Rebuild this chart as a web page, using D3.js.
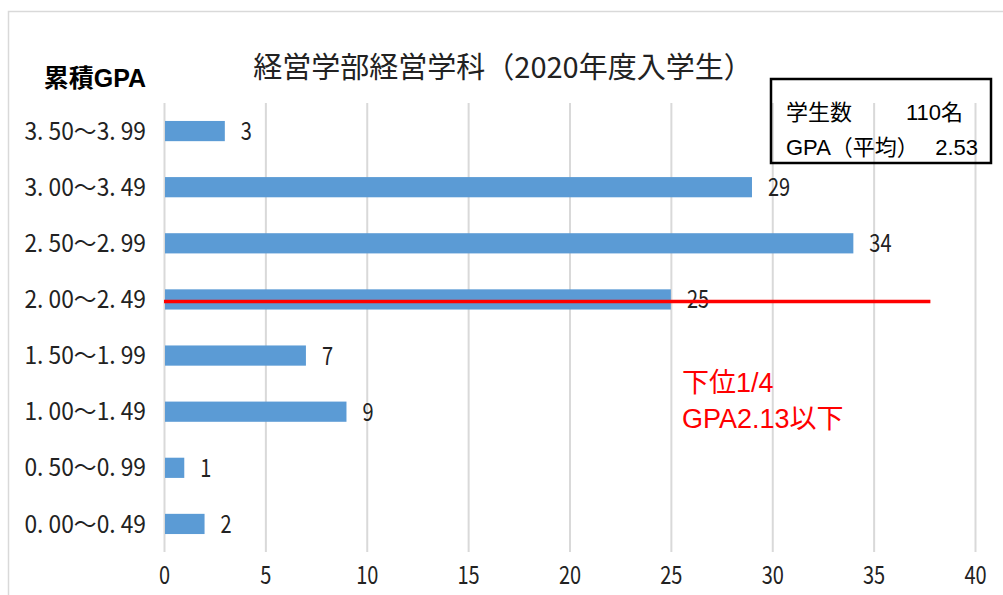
<!DOCTYPE html>
<html>
<head>
<meta charset="utf-8">
<script src="https://cdn.jsdelivr.net/npm/d3@7"></script>
<style>
  body { margin: 0; background: #ffffff; }
  svg { display: block; }
</style>
</head>
<body>
<svg id="svg"></svg>
<script>
// chart data
var categories = ["3. 50～3. 99", "3. 00～3. 49", "2. 50～2. 99", "2. 00～2. 49",
                  "1. 50～1. 99", "1. 00～1. 49", "0. 50～0. 99", "0. 00～0. 49"];
var counts = [3, 29, 34, 25, 7, 9, 1, 2];
var xTicks = [0, 5, 10, 15, 20, 25, 30, 35, 40];

// annotations
var titleText = "経営学部経営学科（2020年度入学生）";
var axisTitle = "累積GPA";
var statLabels = ["学生数", "GPA（平均）"];
var statValues = ["110名", "2.53"];
var cutoffIndex = 3;
var cutoffEnd = 37.8;
var noteLines = ["下位1/4", "GPA2.13以下"];

// style
var width = 1003;
var height = 595;
var barColor = "#5b9bd5";
var gridColor = "#d9d9d9";
var narrowX = 0.8;   // the source font has narrow digits
var cjkFont = "'Noto Sans CJK JP', sans-serif";
var plainFont = "'Liberation Sans', 'Noto Sans CJK JP', sans-serif";

var svg = d3.select("#svg")
    .attr("width", width)
    .attr("height", height);

// chart frame
svg.append("rect")
    .attr("x", 8.5)
    .attr("y", 11.5)
    .attr("width", width)
    .attr("height", height)
    .attr("fill", "none")
    .attr("stroke", gridColor)
    .attr("stroke-width", 1.5);

var x = d3.scaleLinear().domain([0, 40]).range([164, 975]);
var y = d3.scaleBand().domain(categories).range([103, 552])
    .paddingInner(0.64).paddingOuter(0.32);

// grid + x tick labels
var xAxis = svg.append("g")
    .attr("transform", "translate(0,552)")
    .call(d3.axisBottom(x).tickValues(xTicks).tickSize(-449).tickSizeOuter(0).tickPadding(14));
xAxis.select(".domain").remove();
xAxis.selectAll(".tick line")
    .attr("stroke", gridColor)
    .attr("stroke-width", 2);
xAxis.selectAll(".tick text")
    .attr("font-family", cjkFont)
    .attr("font-size", 25)
    .attr("fill", "#222")
    .attr("transform", "scale(" + narrowX + ",1)");

// bars
svg.selectAll("rect.bar")
    .data(counts)
    .enter()
    .append("rect")
    .attr("class", "bar")
    .attr("x", x(0) + 1)
    .attr("y", function(d, i) { return y(categories[i]); })
    .attr("width", function(d) { return x(d) - x(0) - 1; })
    .attr("height", y.bandwidth())
    .attr("fill", barColor);

// value labels
svg.selectAll("text.val")
    .data(counts)
    .enter()
    .append("text")
    .attr("class", "val")
    .attr("transform", function(d, i) {
        return "translate(" + (x(d) + 16) + "," + (y(categories[i]) + y.bandwidth() / 2) + ") scale(" + narrowX + ",1)";
    })
    .attr("dy", "0.36em")
    .attr("font-family", cjkFont)
    .attr("font-size", 25)
    .attr("fill", "#222")
    .text(function(d) { return d; });

// category labels
svg.selectAll("text.cat")
    .data(categories)
    .enter()
    .append("text")
    .attr("class", "cat")
    .attr("transform", function(d) {
        return "translate(146," + (y(d) + y.bandwidth() / 2) + ") scale(0.95,1)";
    })
    .attr("dy", "0.36em")
    .attr("text-anchor", "end")
    .attr("font-family", cjkFont)
    .attr("font-size", 24)
    .attr("fill", "#222")
    .text(function(d) { return d; });

// title
svg.append("text")
    .attr("x", 503)
    .attr("y", 78)
    .attr("text-anchor", "middle")
    .attr("font-family", cjkFont)
    .attr("font-size", 29)
    .attr("fill", "#222")
    .text(titleText);

svg.append("text")
    .attr("x", 95)
    .attr("y", 87)
    .attr("text-anchor", "middle")
    .attr("font-family", plainFont)
    .attr("font-weight", "bold")
    .attr("font-size", 25)
    .attr("fill", "#000")
    .text(axisTitle);

// stats box
svg.append("rect")
    .attr("x", 771)
    .attr("y", 79)
    .attr("width", 220)
    .attr("height", 84)
    .attr("fill", "none")
    .attr("stroke", "#000")
    .attr("stroke-width", 2.5);

statLabels.forEach(function(s, i) {
    svg.append("text")
        .attr("x", 786)
        .attr("y", 120 + i * 35)
        .attr("font-family", plainFont)
        .attr("font-size", 22)
        .attr("fill", "#000")
        .text(s);
    svg.append("text")
        .attr("x", i == 0 ? 963 : 978)
        .attr("y", 120 + i * 35)
        .attr("text-anchor", "end")
        .attr("font-family", plainFont)
        .attr("font-size", 22)
        .attr("fill", "#000")
        .text(statValues[i]);
});

// cutoff line
var cutY = y(categories[cutoffIndex]) + y.bandwidth() / 2 + 2;
svg.append("line")
    .attr("x1", x(0))
    .attr("x2", x(cutoffEnd))
    .attr("y1", cutY)
    .attr("y2", cutY)
    .attr("stroke", "#ff0000")
    .attr("stroke-width", 3.5);

noteLines.forEach(function(s, i) {
    svg.append("text")
        .attr("x", 682)
        .attr("y", 392 + i * 36)
        .attr("font-family", plainFont)
        .attr("font-size", 27)
        .attr("fill", "#ff0000")
        .text(s);
});
</script>
</body>
</html>
